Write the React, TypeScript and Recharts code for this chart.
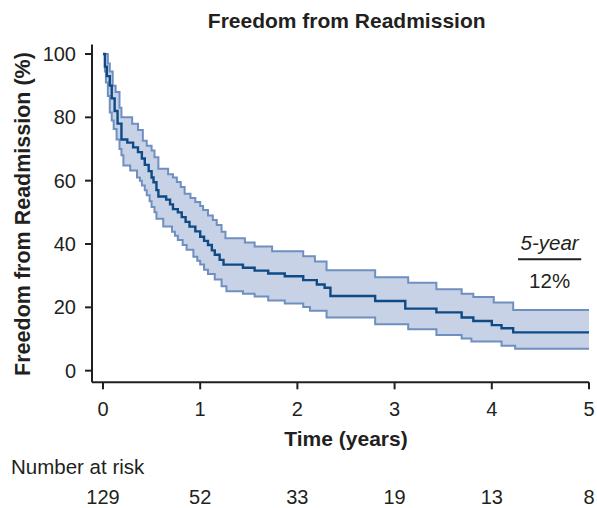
import React from 'react';
import {
  ComposedChart,
  Area,
  Line,
  XAxis,
  YAxis,
  ReferenceLine,
  Label,
  Customized,
} from 'recharts';

// Kaplan-Meier estimate (step times in years, freedom in %)
const kmTimes = [0, 0.02, 0.04, 0.07, 0.09, 0.12, 0.15, 0.19, 0.25, 0.31, 0.36, 0.4, 0.43, 0.47, 0.5, 0.52, 0.55, 0.57, 0.65, 0.69, 0.72, 0.77, 0.81, 0.85, 0.89, 0.95, 1.0, 1.04, 1.08, 1.12, 1.15, 1.2, 1.24, 1.44, 1.56, 1.7, 1.87, 2.06, 2.2, 2.28, 2.34, 2.8, 3.11, 3.43, 3.69, 3.81, 4.0, 4.1, 4.22, 5];
const kmValues = [100, 96, 93, 90, 86, 82, 78, 73, 72, 70.5, 69, 67, 65, 63, 61, 59.5, 57, 55, 54, 52.5, 51, 50, 48.5, 47, 45.5, 44, 42.3, 41, 39.7, 38, 36.6, 35, 33.5, 32.5, 31.6, 30.7, 29.8, 28.6, 27.2, 26.2, 23.6, 22, 19.6, 18.4, 16.8, 15.7, 14.4, 13.4, 12.1, 12.1];

// upper confidence limit
const upperTimes = [0, 0.05, 0.07, 0.1, 0.13, 0.17, 0.19, 0.3, 0.36, 0.41, 0.45, 0.5, 0.53, 0.57, 0.67, 0.72, 0.76, 0.8, 0.84, 0.9, 0.95, 1.0, 1.03, 1.08, 1.13, 1.17, 1.22, 1.26, 1.46, 1.56, 1.74, 2.06, 2.18, 2.3, 2.8, 3.14, 3.43, 3.69, 3.81, 4.02, 4.22, 5];
const upperValues = [100, 97, 94.5, 90, 88, 83, 80, 78, 76, 72.6, 71, 69.5, 67.4, 63.8, 62, 61, 59.6, 58, 55.9, 54.5, 53.3, 52, 50.7, 49, 47.6, 46, 43.9, 41.8, 40.5, 39.2, 37.7, 36.1, 34.5, 31.7, 29.5, 27.8, 25.7, 24.3, 23.3, 21.5, 19.2, 19.2];

// lower confidence limit
const lowerTimes = [0, 0.02, 0.03, 0.05, 0.07, 0.09, 0.11, 0.14, 0.17, 0.19, 0.21, 0.28, 0.35, 0.38, 0.4, 0.43, 0.45, 0.48, 0.5, 0.53, 0.55, 0.62, 0.71, 0.74, 0.77, 0.82, 0.86, 0.93, 0.97, 1.0, 1.04, 1.08, 1.15, 1.22, 1.27, 1.44, 1.56, 1.7, 1.87, 2.06, 2.13, 2.3, 2.8, 3.14, 3.43, 3.69, 3.79, 4.1, 4.24, 5];
const lowerValues = [100, 94.5, 91, 86.7, 81.5, 79, 76.3, 73, 70, 68, 64.8, 63.2, 61, 60, 58.5, 57, 55.4, 53.5, 51.7, 50, 48, 45.5, 43.9, 42.6, 41.3, 39.7, 38.2, 36, 34.7, 33.5, 31.9, 30.5, 28.8, 26.7, 25.1, 24.3, 23.4, 22.2, 21.2, 20.1, 18.9, 16.8, 14.7, 13.1, 11.3, 10.2, 9.2, 7.9, 6.9, 6.9];

const xTicks = [0, 1, 2, 3, 4, 5];
const yTicks = [0, 20, 40, 60, 80, 100];
const riskTimes = [0, 1, 2, 3, 4, 5];
const riskCounts = [129, 52, 33, 19, 13, 8];

const stepAt = (times: number[], vals: number[], t: number) => {
  let v = vals[0];
  for (let i = 0; i < times.length; i++) {
    if (times[i] <= t) v = vals[i];
  }
  return v;
};

const allTimes = Array.from(new Set([...kmTimes, ...upperTimes, ...lowerTimes])).sort((a, b) => a - b);
const data = allTimes.map((t) => ({
  t,
  km: stepAt(kmTimes, kmValues, t),
  lo: stepAt(lowerTimes, lowerValues, t),
  hi: stepAt(upperTimes, upperValues, t),
}));

const ink = '#231f20';
const font = '"Liberation Sans", Arial, Helvetica, sans-serif';

// page coordinates (chart svg now starts at 0,0)
const Texts = () => (
  <g fill={ink} fontFamily={font}>
    <text x={346.7} y={28.3} textAnchor="middle" fontSize={21} fontWeight="bold">
      Freedom from Readmission
    </text>
    <text
      x={0}
      y={0}
      transform="translate(29.5, 214) rotate(-90)"
      textAnchor="middle"
      fontSize={21.5}
      fontWeight="bold"
    >
      Freedom from Readmission (%)
    </text>
    <text x={346} y={445.5} textAnchor="middle" fontSize={21} fontWeight="bold">
      Time (years)
    </text>
    <text x={11} y={474} fontSize={20.5}>
      Number at risk
    </text>
  </g>
);

export default function App() {
  return (
    <div style={{ width: 597, height: 508, fontFamily: font }}>
      <style>{'html { overflow: hidden; } body { margin: 0; }'}</style>
      <ComposedChart
        width={597}
        height={508}
        data={data}
        margin={{ top: 44.5, right: 8, left: 8, bottom: 0 }}
      >
        <XAxis
          dataKey="t"
          type="number"
          domain={[-0.113, 5]}
          ticks={xTicks}
          allowDataOverflow
          height={95}
          tickSize={7}
          tickMargin={12}
          axisLine={{ stroke: ink, strokeWidth: 2 }}
          tickLine={{ stroke: ink, strokeWidth: 2 }}
          tick={{ fill: ink, fontSize: 20 }}
        />
        <XAxis
          xAxisId="risk"
          dataKey="t"
          type="number"
          domain={[-0.113, 5]}
          ticks={riskTimes}
          allowDataOverflow
          height={30.7}
          tickSize={0}
          tickMargin={12}
          axisLine={false}
          tickLine={false}
          tick={{ fill: ink, fontSize: 20 }}
          tickFormatter={(v: number) => String(riskCounts[riskTimes.indexOf(v)])}
        />
        <YAxis
          type="number"
          domain={[-3.67, 103]}
          ticks={yTicks}
          allowDataOverflow
          width={84}
          tickSize={7}
          tickMargin={9}
          axisLine={{ stroke: ink, strokeWidth: 2 }}
          tickLine={{ stroke: ink, strokeWidth: 2 }}
          tick={{ fill: ink, fontSize: 20 }}
        />
        <Area
          dataKey={(d: any) => [d.lo, d.hi]}
          type="stepAfter"
          fill="#c8d2e6"
          fillOpacity={1}
          stroke="#6f8fc0"
          strokeWidth={2}
          isAnimationActive={false}
          activeDot={false}
        />
        <Line
          dataKey="km"
          type="stepAfter"
          stroke="#0e4a86"
          strokeWidth={2.4}
          dot={false}
          activeDot={false}
          isAnimationActive={false}
        />
        <ReferenceLine
          segment={[
            { x: 4.27, y: 35.2 },
            { x: 4.92, y: 35.2 },
          ]}
          stroke={ink}
          strokeWidth={2}
        >
          <Label
            content={(p: any) => {
              const vb = p.viewBox || {};
              const cx = (vb.x ?? 0) + (vb.width ?? 0) / 2;
              const cy = vb.y ?? 0;
              return (
                <g fill={ink} fontFamily={font} fontSize={20.5} textAnchor="middle">
                  <text x={cx} y={cy - 9.3} fontStyle="italic">
                    5-year
                  </text>
                  <text x={cx} y={cy + 29}>
                    12%
                  </text>
                </g>
              );
            }}
          />
        </ReferenceLine>
        <Customized component={Texts} />
      </ComposedChart>
    </div>
  );
}
